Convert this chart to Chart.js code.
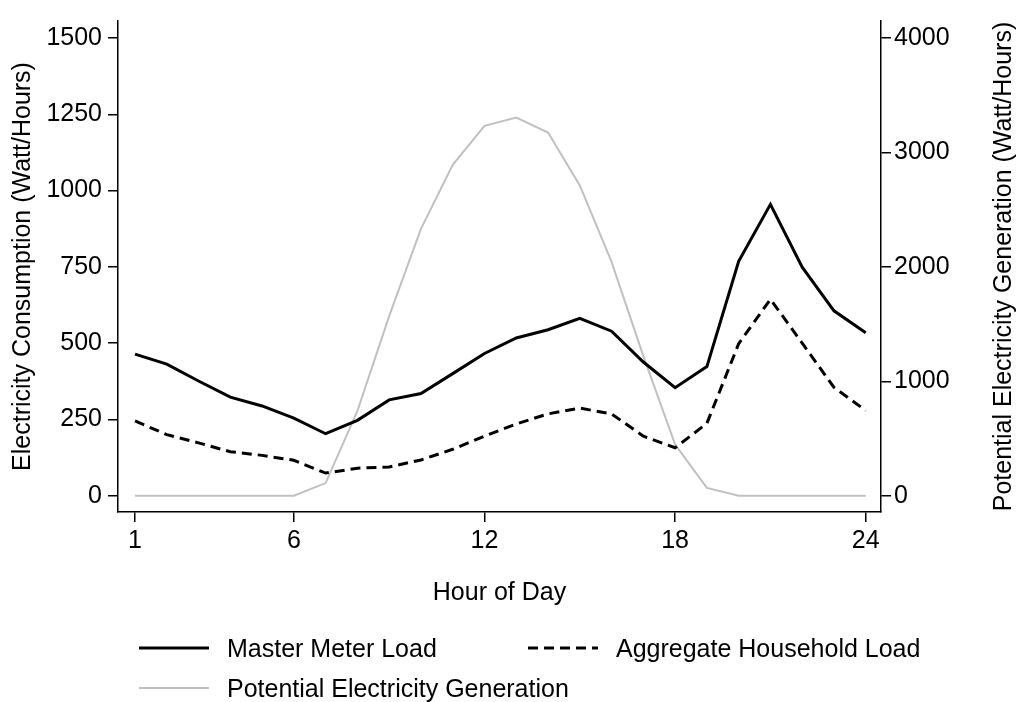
<!DOCTYPE html>
<html lang="en">
<head>
  <meta charset="UTF-8" />
  <title>Hourly load and generation</title>
  <script src="https://cdn.jsdelivr.net/npm/chart.js"></script>
  <style>
    body {
      margin: 0;
      background: #fff;
      font-family: "Liberation Sans", Arial, sans-serif;
    }
    #wrap {
      position: relative;
      width: 1022px;
      height: 702px;
    }
    #legend {
      position: absolute;
      left: 0;
      top: 0;
      width: 1022px;
      height: 702px;
      pointer-events: none;
    }
    .item {
      position: absolute;
      display: flex;
      align-items: center;
      font-size: 25px;
      color: #000;
      white-space: nowrap;
    }
    .item svg {
      margin-right: 18px;
    }
  </style>
</head>
<body>
  <div id="wrap">
    <canvas id="loadChart" width="1022" height="702"></canvas>
    <div id="legend"></div>
  </div>

  <script>
    const hours = [1, 2, 3, 4, 5, 6, 7, 8, 9, 10, 11, 12, 13, 14, 15, 16, 17, 18, 19, 20, 21, 22, 23, 24];
    const masterMeter = [464, 431, 376, 323, 294, 254, 203, 247, 314, 335, 400, 466, 517, 544, 581, 539, 438, 354, 423, 768, 955, 749, 606, 534];
    const householdLoad = [245, 200, 173, 144, 132, 116, 74, 90, 94, 117, 152, 195, 235, 268, 287, 268, 195, 157, 237, 498, 644, 500, 355, 279];
    const generation = [0, 0, 0, 0, 0, 0, 110, 740, 1569, 2332, 2893, 3233, 3305, 3175, 2712, 2044, 1220, 446, 68, 0, 0, 0, 0, 0];

    const xTicks = [1, 6, 12, 18, 24];
    const leftTicks = [0, 250, 500, 750, 1000, 1250, 1500];
    const rightTicks = [0, 1000, 2000, 3000, 4000];

    const FONT = "'Liberation Sans', Arial, sans-serif";
    const rightTitle = 'Potential Electricity Generation (Watt/Hours)';

    function points(values) {
      return hours.map((h, i) => ({ x: h, y: values[i] }));
    }

    function axisStyle() {
      return {
        border: { display: true, color: '#000', width: 1.5 },
        grid: { drawOnChartArea: false, drawTicks: true, tickLength: 10, color: '#000', lineWidth: 1.5 }
      };
    }

    const plain = v => String(v);

    // Chart.js turns a right-hand title to read downwards; the original reads upwards
    const rightTitlePlugin = {
      id: 'rightTitle',
      afterDraw(c) {
        const s = c.scales.y2;
        const g = c.ctx;
        g.save();
        g.translate(s.right - 18, (c.chartArea.top + c.chartArea.bottom) / 2);
        g.rotate(-Math.PI / 2);
        g.font = '25px ' + FONT;
        g.fillStyle = '#000';
        g.textAlign = 'center';
        g.textBaseline = 'middle';
        g.fillText(rightTitle, 0, 0);
        g.restore();
      }
    };

    const ctx = document.getElementById('loadChart').getContext('2d');
    const chart = new Chart(ctx, {
      type: 'line',
      data: {
        datasets: [
          {
            label: 'Master Meter Load',
            data: points(masterMeter),
            borderColor: '#000',
            borderWidth: 3,
            yAxisID: 'y'
          },
          {
            label: 'Aggregate Household Load',
            data: points(householdLoad),
            borderColor: '#000',
            borderWidth: 3,
            borderDash: [10, 6],
            yAxisID: 'y'
          },
          {
            label: 'Potential Electricity Generation',
            data: points(generation),
            borderColor: '#c0c0c0',
            borderWidth: 2,
            yAxisID: 'y2'
          }
        ]
      },
      options: {
        responsive: false,
        animation: false,
        elements: { point: { radius: 0 }, line: { tension: 0, fill: false } },
        layout: { padding: { top: 17, bottom: 94, left: 0, right: 0 } },
        plugins: {
          legend: { display: false },
          tooltip: { enabled: false }
        },
        scales: {
          x: {
            type: 'linear',
            min: 0.465,
            max: 24.48,
            ...axisStyle(),
            afterBuildTicks: s => { s.ticks = xTicks.map(v => ({ value: v })); },
            afterFit: s => { s.height = 96; },
            ticks: { color: '#000', padding: 4, callback: plain, font: { family: FONT, size: 25 } },
            title: {
              display: true,
              text: 'Hour of Day',
              color: '#000',
              padding: { top: 0, bottom: 0 },
              font: { family: FONT, size: 25 }
            }
          },
          y: {
            position: 'left',
            min: -53.6,
            max: 1556,
            ...axisStyle(),
            afterBuildTicks: s => { s.ticks = leftTicks.map(v => ({ value: v })); },
            afterFit: s => { s.width = 118; },
            ticks: { color: '#000', padding: 6, callback: plain, font: { family: FONT, size: 25 } },
            title: {
              display: true,
              text: 'Electricity Consumption (Watt/Hours)',
              color: '#000',
              padding: { top: 8, bottom: 0 },
              font: { family: FONT, size: 25 }
            }
          },
          y2: {
            position: 'right',
            min: -143,
            max: 4150,
            ...axisStyle(),
            afterBuildTicks: s => { s.ticks = rightTicks.map(v => ({ value: v })); },
            afterFit: s => { s.width = 141; },
            ticks: { color: '#000', padding: 3, callback: plain, font: { family: FONT, size: 25 } },
            title: { display: false }
          }
        }
      },
      plugins: [rightTitlePlugin]
    });

    // legend laid out like the original: two entries on the first row, one below
    const legendSpots = [
      { left: 139, top: 648 },
      { left: 528, top: 648 },
      { left: 139, top: 688 }
    ];
    const legend = document.getElementById('legend');
    chart.data.datasets.forEach((ds, i) => {
      const item = document.createElement('div');
      item.className = 'item';
      item.style.left = legendSpots[i].left + 'px';
      item.style.top = (legendSpots[i].top - 15) + 'px';
      item.style.height = '30px';
      const dash = ds.borderDash ? ds.borderDash.join(',') : 'none';
      item.innerHTML =
        '<svg width="70" height="10"><line x1="0" y1="5" x2="70" y2="5" stroke="' + ds.borderColor +
        '" stroke-width="' + ds.borderWidth + '" stroke-dasharray="' + dash + '"/></svg>' +
        '<span>' + ds.label + '</span>';
      legend.appendChild(item);
    });
  </script>
</body>
</html>
